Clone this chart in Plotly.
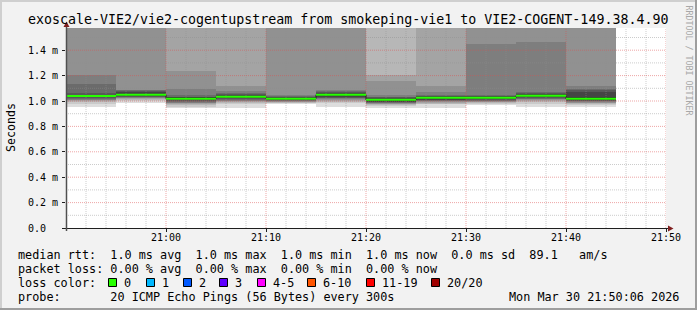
import plotly.graph_objects as go
import pandas as pd

# ---------------- data ----------------
slot_start = ["2026-03-30 20:50", "2026-03-30 20:55", "2026-03-30 21:00", "2026-03-30 21:05",
              "2026-03-30 21:10", "2026-03-30 21:15", "2026-03-30 21:20", "2026-03-30 21:25",
              "2026-03-30 21:30", "2026-03-30 21:35", "2026-03-30 21:40"]
slot_end = "2026-03-30 21:45"
step_ms = 300000

median_ms = [1.039, 1.050, 1.018, 1.034, 1.018, 1.050, 1.009, 1.025, 1.025, 1.042, 1.017]

# 20 sorted ping rtts (ms) per 5-minute slot
p_2050 = [0.955, 0.976, 0.992, 1.002, 1.008, 1.011, 1.013, 1.020, 1.028, 1.035, 1.047, 1.050, 1.061, 1.134, 1.205, 1.70, 1.85, 2.00, 2.30, 2.70]
p_2055 = [0.986, 1.002, 1.009, 1.016, 1.020, 1.024, 1.029, 1.033, 1.037, 1.043, 1.058, 1.068, 1.079, 1.083, 1.087, 1.72, 1.90, 2.10, 2.40, 2.90]
p_2100 = [0.943, 0.953, 0.969, 0.975, 0.982, 0.987, 0.992, 0.998, 1.004, 1.012, 1.028, 1.031, 1.035, 1.047, 1.094, 1.236, 1.65, 1.85, 2.10, 2.60]
p_2105 = [0.947, 0.975, 0.984, 0.994, 0.998, 1.003, 1.008, 1.014, 1.021, 1.026, 1.042, 1.047, 1.053, 1.063, 1.081, 1.118, 1.62, 1.80, 2.05, 2.50]
p_2110 = [0.976, 0.982, 0.986, 0.990, 0.994, 0.998, 1.002, 1.005, 1.008, 1.012, 1.024, 1.028, 1.031, 1.037, 1.047, 1.68, 1.85, 2.00, 2.30, 2.80]
p_2115 = [0.955, 0.982, 0.990, 0.998, 1.006, 1.013, 1.020, 1.026, 1.033, 1.042, 1.057, 1.061, 1.067, 1.075, 1.087, 1.70, 1.88, 2.05, 2.35, 2.75]
p_2120 = [0.947, 0.961, 0.967, 0.974, 0.978, 0.982, 0.987, 0.991, 0.995, 1.000, 1.019, 1.024, 1.029, 1.035, 1.047, 1.160, 1.205, 1.65, 1.95, 2.40]
p_2125 = [0.947, 0.974, 0.980, 0.987, 0.992, 0.997, 1.002, 1.006, 1.011, 1.016, 1.035, 1.038, 1.042, 1.047, 1.067, 1.118, 1.62, 1.82, 2.10, 2.55]
p_2130 = [0.969, 0.979, 0.984, 0.990, 0.994, 0.998, 1.002, 1.008, 1.012, 1.016, 1.033, 1.037, 1.041, 1.047, 1.449, 1.66, 1.84, 2.02, 2.30, 2.70]
p_2135 = [0.955, 0.976, 0.992, 1.000, 1.008, 1.012, 1.016, 1.021, 1.028, 1.034, 1.051, 1.057, 1.063, 1.071, 1.465, 1.68, 1.86, 2.05, 2.35, 2.80]
p_2140 = [0.955, 0.971, 0.976, 0.982, 0.988, 0.994, 0.998, 1.000, 1.004, 1.008, 1.030, 1.068, 1.088, 1.092, 1.118, 1.64, 1.83, 2.02, 2.30, 2.65]
pings = [p_2050, p_2055, p_2100, p_2105, p_2110, p_2115, p_2120, p_2125, p_2130, p_2135, p_2140]

y_tickvals = [0.0, 0.2, 0.4, 0.6, 0.8, 1.0, 1.2, 1.4]
y_ticktext = ["0.0  ", "0.2 m", "0.4 m", "0.6 m", "0.8 m", "1.0 m", "1.2 m", "1.4 m"]
x_tickvals = ["2026-03-30 21:00", "2026-03-30 21:10", "2026-03-30 21:20",
              "2026-03-30 21:30", "2026-03-30 21:40", "2026-03-30 21:50"]
x_ticktext = ["21:00", "21:10", "21:20", "21:30", "21:40", "21:50"]
x_range = ["2026-03-30 20:50", "2026-03-30 21:50"]
y_max = 1.5748

rtt_stats = {"avg": "1.0", "max": "1.0", "min": "1.0", "now": "1.0", "sd": "0.0", "ams": "89.1"}
loss_stats = ["0.00", "0.00", "0.00", "0.00"]
loss_labels = ["0", "1", "2", "3", "4-5", "6-10", "11-19", "20/20"]
loss_colors = ["#26ff00", "#00b8ff", "#0059ff", "#5e00ff", "#ff00ff", "#ff5500", "#ff0000", "#a00000"]

title = "exoscale-VIE2/vie2-cogentupstream from smokeping-vie1 to VIE2-COGENT-149.38.4.90"
probe_text = "20 ICMP Echo Pings (56 Bytes) every 300s"
date_text = "Mon Mar 30 21:50:06 2026"

# ---------------- layout helpers ----------------
W, H = 697, 310
L, R, T, B = 66, 31, 28, 82
PW, PH = W - L - R, H - T - B
MONO = "DejaVu Sans Mono"


def px(x):
    return (x - L) / PW


def py(y):
    return (H - B - y) / PH


def nb(s):
    return s.replace(" ", "\u00a0")


fig = go.Figure()

# smoke bands (smokeping style)
half = 10
for k in range(1, half + 1):
    c = int(190 / half * (half - k)) + 50
    col = "#%02x%02x%02x" % (c, c, c)
    base = [p[k - 1] for p in pings]
    top = [p[20 - k] for p in pings]
    fig.add_trace(go.Bar(
        x=slot_start, base=base, y=[t - b for t, b in zip(top, base)],
        width=[step_ms] * len(slot_start), offset=0,
        marker=dict(color=col, line=dict(width=0)),
        hoverinfo="skip", showlegend=False))

# grid (above smoke)
minor_t = pd.date_range(x_range[0], x_range[1], freq="2min")
gx_min, gy_min, gx_maj, gy_maj = [], [], [], []
for t in minor_t:
    s = t.strftime("%Y-%m-%d %H:%M")
    if t.minute % 10 == 0:
        if s != x_range[0]:
            gx_maj += [s, s, None]
            gy_maj += [0, y_max, None]
    else:
        gx_min += [s, s, None]
        gy_min += [0, y_max, None]
hx_min, hy_min, hx_maj, hy_maj = [], [], [], []
for i in range(1, 16):
    v = i / 10
    if i % 2 == 0:
        hx_maj += [x_range[0], x_range[1], None]
        hy_maj += [v, v, None]
    else:
        hx_min += [x_range[0], x_range[1], None]
        hy_min += [v, v, None]
grid_minor = "rgba(143,143,143,0.45)"
grid_major = "rgba(222,79,79,0.5)"
for gx, gy, col in [(gx_min, gy_min, grid_minor), (hx_min, hy_min, grid_minor),
                    (gx_maj, gy_maj, grid_major), (hx_maj, hy_maj, grid_major)]:
    fig.add_trace(go.Scatter(x=gx, y=gy, mode="lines",
                             line=dict(color=col, width=1, dash="1px,1px"),
                             hoverinfo="skip", showlegend=False))

# median: dark step line + green segments
fig.add_trace(go.Scatter(x=slot_start + [slot_end], y=median_ms + [median_ms[-1]],
                         mode="lines", line=dict(color="#202020", width=1, shape="hv"),
                         hoverinfo="skip", showlegend=False))
seg_x, seg_y = [], []
ends = slot_start[1:] + [slot_end]
for s, e, m in zip(slot_start, ends, median_ms):
    seg_x += [s, e, None]
    seg_y += [m, m, None]
fig.add_trace(go.Scatter(x=seg_x, y=seg_y, mode="lines",
                         line=dict(color=loss_colors[0], width=2),
                         hoverinfo="skip", showlegend=False))

shapes = []
# frame (3D shading)
shapes.append(dict(type="rect", xref="paper", yref="paper", x0=px(0), x1=px(W), y0=py(0), y1=py(2),
                   fillcolor="#cfcfcf", line=dict(width=0), layer="above"))
shapes.append(dict(type="rect", xref="paper", yref="paper", x0=px(0), x1=px(2), y0=py(0), y1=py(H),
                   fillcolor="#cfcfcf", line=dict(width=0), layer="above"))
shapes.append(dict(type="rect", xref="paper", yref="paper", x0=px(0), x1=px(W), y0=py(H - 2), y1=py(H),
                   fillcolor="#9e9e9e", line=dict(width=0), layer="above"))
shapes.append(dict(type="rect", xref="paper", yref="paper", x0=px(W - 2), x1=px(W), y0=py(0), y1=py(H),
                   fillcolor="#9e9e9e", line=dict(width=0), layer="above"))
# axes lines
shapes.append(dict(type="line", xref="paper", yref="paper", x0=px(62), x1=px(670), y0=py(228.5), y1=py(228.5),
                   line=dict(color="#1f1f1f", width=1), layer="above"))
shapes.append(dict(type="line", xref="paper", yref="paper", x0=px(66.5), x1=px(66.5), y0=py(231), y1=py(24),
                   line=dict(color="#505050", width=1.5), layer="above"))
# arrows
shapes.append(dict(type="path", xref="paper", yref="paper",
                   path="M %f %f L %f %f L %f %f Z" % (px(63.5), py(27), px(69.5), py(27), px(66.5), py(21.5)),
                   fillcolor="#801f1f", line=dict(width=0), layer="above"))
shapes.append(dict(type="path", xref="paper", yref="paper",
                   path="M %f %f L %f %f L %f %f Z" % (px(668), py(225.5), px(668), py(231.5), px(673.5), py(228.5)),
                   fillcolor="#801f1f", line=dict(width=0), layer="above"))

annotations = []
annotations.append(dict(text=nb(title), xref="paper", yref="paper", x=px(347.5), y=py(19.5),
                        xanchor="center", yanchor="middle", showarrow=False,
                        font=dict(family=MONO, size=13.3, color="#000")))
annotations.append(dict(text="Seconds", xref="paper", yref="paper", x=px(11), y=py(128),
                        xanchor="center", yanchor="middle", showarrow=False, textangle=-90,
                        font=dict(family=MONO, size=11.6, color="#000")))
annotations.append(dict(text=nb("RRDTOOL / TOBI OETIKER"), xref="paper", yref="paper", x=px(688.5), y=py(60),
                        xanchor="center", yanchor="middle", showarrow=False, textangle=90,
                        font=dict(family=MONO, size=8.3, color="#a8a8a8")))

row1 = "median rtt:  {avg} ms avg  {max} ms max  {min} ms min  {now} ms now  {sd} ms sd  {ams}   am/s".format(**rtt_stats)
row2 = "packet loss: {} % avg  {} % max  {} % min  {} % now".format(*loss_stats)
row4 = "probe:       " + probe_text
LEG = dict(family=MONO, size=11.8, color="#000")
for txt, yc in [(row1, 254.5), (row2, 268.5), ("loss color:", 282.5), (row4, 296.5)]:
    annotations.append(dict(text=nb(txt), xref="paper", yref="paper", x=px(16), y=py(yc),
                            xanchor="left", yanchor="middle", showarrow=False, font=LEG))
annotations.append(dict(text=nb(date_text), xref="paper", yref="paper", x=px(681), y=py(296.5),
                        xanchor="right", yanchor="middle", showarrow=False, font=LEG))

box_left = [108, 146, 183, 219, 257, 307, 366, 431]
for bx, lab, col in zip(box_left, loss_labels, loss_colors):
    shapes.append(dict(type="rect", xref="paper", yref="paper", x0=px(bx + 0.5), x1=px(bx + 8.5),
                       y0=py(286.5), y1=py(278.5), fillcolor=col, line=dict(color="#000", width=1),
                       layer="above"))
    annotations.append(dict(text=nb(lab), xref="paper", yref="paper", x=px(bx + 13.5), y=py(282.5),
                            xanchor="left", yanchor="middle", showarrow=False, font=LEG))

fig.update_layout(
    width=W, height=H, margin=dict(l=L, r=R, t=T, b=B, pad=0),
    paper_bgcolor="#f2f2f2", plot_bgcolor="#ffffff",
    barmode="overlay", bargap=0, showlegend=False,
    shapes=shapes, annotations=annotations,
    xaxis=dict(type="date", range=x_range, showgrid=False, zeroline=False, showline=False,
               tickvals=x_tickvals, ticktext=x_ticktext, ticks="outside", ticklen=3,
               tickcolor="#1f1f1f", tickfont=dict(family=MONO, size=10, color="#000"),
               ticklabelstandoff=-3, fixedrange=True),
    yaxis=dict(range=[0, y_max], showgrid=False, zeroline=False, showline=False,
               tickvals=y_tickvals, ticktext=[nb(t) for t in y_ticktext], ticks="outside", ticklen=3,
               tickcolor="#1f1f1f", tickfont=dict(family=MONO, size=10, color="#000"),
               ticklabelstandoff=2, fixedrange=True),
)

fig.write_html("out.html")
